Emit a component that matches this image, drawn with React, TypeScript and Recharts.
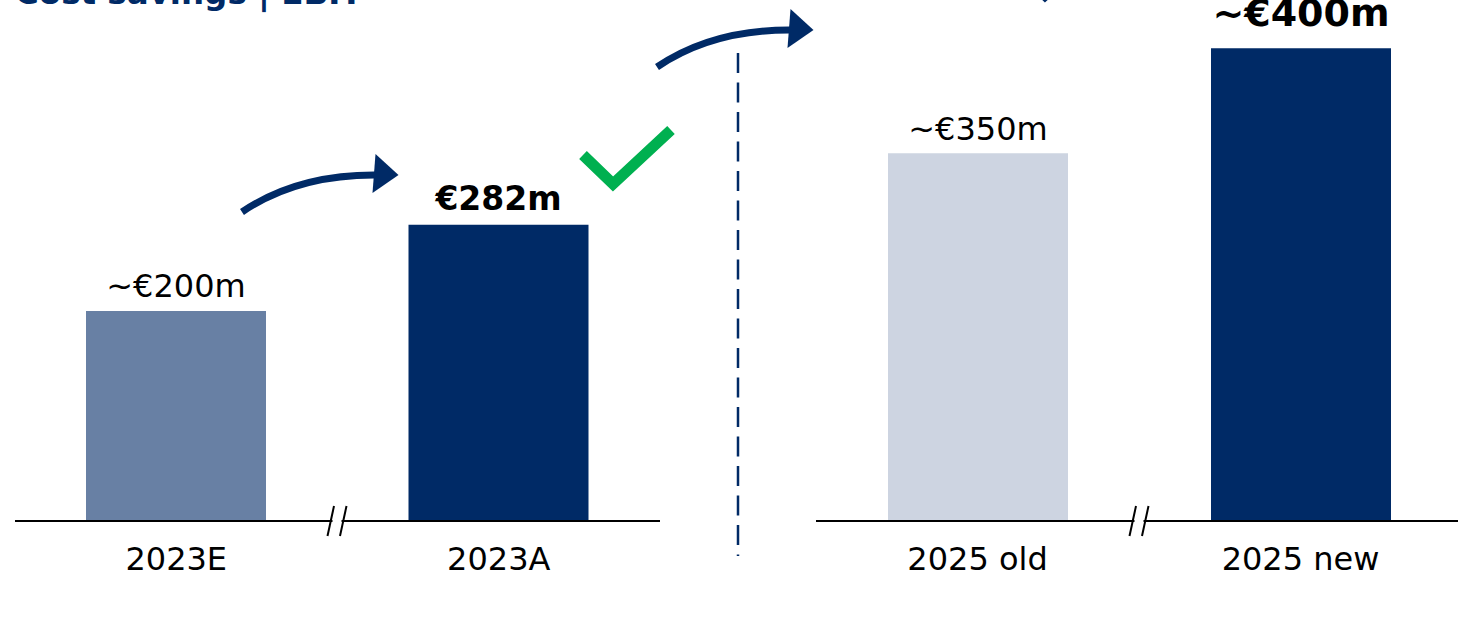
import { BarChart, Bar, XAxis, YAxis, Cell, LabelList } from 'recharts';

const leftCategories = ['2023E', '2023A'];
const leftValues = [200, 282];
const leftLabels = ['~€200m', '€282m'];

const rightCategories = ['2025 old', '2025 new'];
const rightValues = [350, 450];
const rightLabels = ['~€350m', '~€400m'];

const NAVY = '#002A66';
const STEEL = '#6880A4';
const PALE = '#CDD4E1';
const GREEN = '#00B050';
const FONT = "'DejaVu Sans', Verdana, sans-serif";

// per-panel looks, index-aligned with the arrays above
const leftFills = [STEEL, NAVY];
const rightFills = [PALE, NAVY];
const leftLabelLook = [
  { size: 32, weight: 400, gap: 14 },
  { size: 33, weight: 700, gap: 15 },
];
const rightLabelLook = [
  { size: 32, weight: 400, gap: 13 },
  { size: 38, weight: 700, gap: 22 },
];

const Y_MAX = 496;
const CHART_H = 621;

function rows(cats: string[], vals: number[], labels: string[]) {
  return cats.map((name, i) => ({ name, value: vals[i], label: labels[i] }));
}

function Tick(props: any) {
  const { x, y, payload } = props;
  return (
    <text x={x} y={y} dy={41} textAnchor="middle" fontSize={32} fontFamily={FONT} fill="#000">
      {payload.value}
    </text>
  );
}

function makeLabel(look: { size: number; weight: number; gap: number }[]) {
  return (props: any) => {
    const { x, y, width, value, index } = props;
    const l = look[index] ?? look[0];
    return (
      <text
        x={x + width / 2}
        y={y - l.gap}
        textAnchor="middle"
        fontSize={l.size}
        fontWeight={l.weight}
        fontFamily={FONT}
        fill="#000"
      >
        {value}
      </text>
    );
  };
}

function Panel({ data, fills, look, left, width }: any) {
  return (
    <div style={{ position: 'absolute', left, top: 0 }}>
      <BarChart width={width} height={CHART_H} data={data} margin={{ top: 0, right: 0, left: 0, bottom: 40 }}>
        <YAxis hide domain={[0, Y_MAX]} />
        <XAxis
          dataKey="name"
          height={60}
          axisLine={{ stroke: '#000', strokeWidth: 2 }}
          tickLine={false}
          tick={<Tick />}
          interval={0}
        />
        <Bar dataKey="value" barSize={180} isAnimationActive={false}>
          {data.map((_: any, i: number) => (
            <Cell key={i} fill={fills[i]} />
          ))}
          <LabelList dataKey="label" content={makeLabel(look)} />
        </Bar>
      </BarChart>
    </div>
  );
}

function BreakMark({ x, y }: { x: number; y: number }) {
  return (
    <g>
      <rect x={x - 5} y={y - 3} width={9} height={6} fill="#fff" />
      <line x1={x - 10} y1={y + 15} x2={x - 3.5} y2={y - 15} stroke="#000" strokeWidth={2} />
      <line x1={x + 2.5} y1={y + 15} x2={x + 9} y2={y - 15} stroke="#000" strokeWidth={2} />
    </g>
  );
}

function Arrow({ dx, dy }: { dx: number; dy: number }) {
  return (
    <g transform={`translate(${dx},${dy})`}>
      <path d="M242,212 Q298,174 378,175" fill="none" stroke={NAVY} strokeWidth={7} />
      <polygon points="375.5,154 398.5,175 372.5,193" fill={NAVY} />
    </g>
  );
}

export default function App() {
  return (
    <div
      style={{
        position: 'absolute',
        left: 0,
        top: 0,
        width: 1458,
        height: CHART_H,
        overflow: 'hidden',
        background: '#fff',
        fontFamily: FONT,
      }}
    >
      <Panel data={rows(leftCategories, leftValues, leftLabels)} fills={leftFills} look={leftLabelLook} left={15} width={645} />
      <Panel data={rows(rightCategories, rightValues, rightLabels)} fills={rightFills} look={rightLabelLook} left={816} width={646} />
      <svg
        width={1458}
        height={CHART_H}
        style={{ position: 'absolute', left: 0, top: 0, pointerEvents: 'none' }}
      >
        <text x={15} y={4} fontSize={32.5} fontWeight={700} fontFamily={FONT} fill={NAVY}>
          Cost savings | EBIT
        </text>
        <line x1={738} y1={53} x2={738} y2={556} stroke={NAVY} strokeWidth={2.5} strokeDasharray="20 9.5" />
        <Arrow dx={0} dy={0} />
        <Arrow dx={415} dy={-145} />
        <polyline points="583,155 613,184 671,130" fill="none" stroke={GREEN} strokeWidth={11} />
        <polyline points="1015,-34 1045,-5 1103,-59" fill="none" stroke={NAVY} strokeWidth={11} />
        <BreakMark x={337.5} y={521} />
        <BreakMark x={1139.5} y={521} />
      </svg>
    </div>
  );
}
